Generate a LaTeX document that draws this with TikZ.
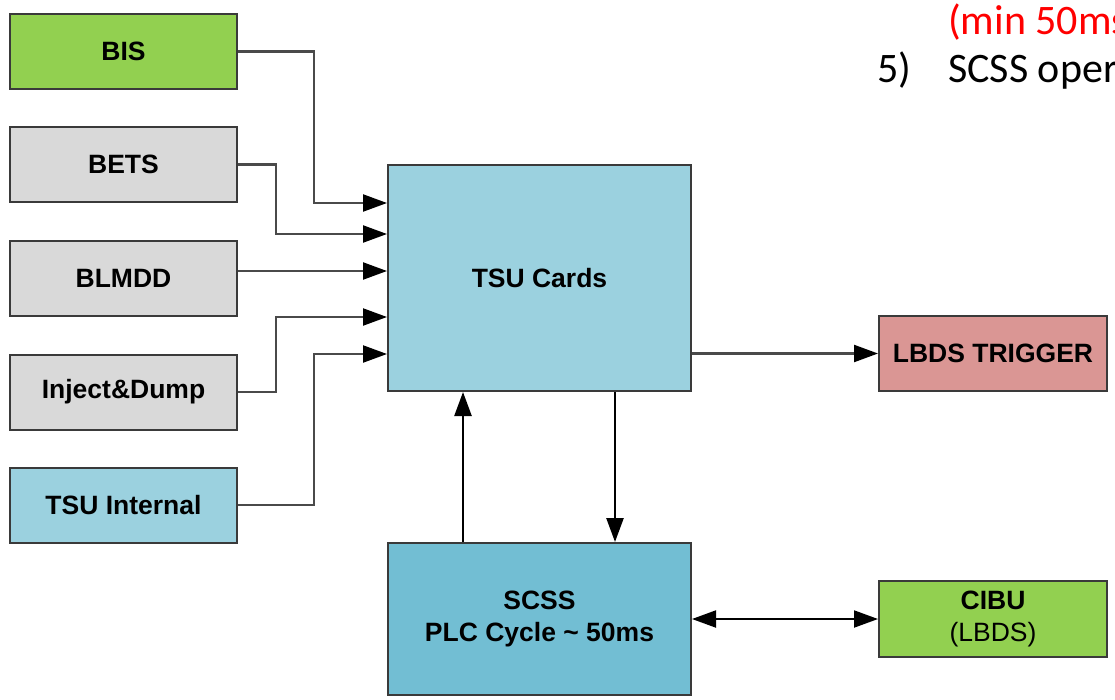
\documentclass[tikz,border=0pt]{standalone}
\usepackage{fontspec}
\setmainfont{Liberation Sans}
\newfontfamily\calib{Carlito}
\usetikzlibrary{arrows.meta}
\definecolor{cgreen}{HTML}{92D050}
\definecolor{cgrey}{HTML}{D9D9D9}
\definecolor{cblue}{HTML}{9BD1DF}
\definecolor{cdblue}{HTML}{72BED3}
\definecolor{cred}{HTML}{DA9694}
\definecolor{cborder}{HTML}{3A3A3A}
\definecolor{cline}{HTML}{4A4A4A}
\tikzset{
  box/.style={draw=cborder, line width=2pt, minimum width=227pt, minimum height=75pt, inner sep=0pt, align=center, font=\fontsize{26.5}{32}\selectfont\bfseries},
  tip/.tip={Triangle[length=24pt,width=17pt,color=black]},
  conn/.style={draw=cline, line width=2.2pt, -tip},
  vconn/.style={draw=black, line width=2.5pt, -tip},
  slide/.style={anchor=base west, inner sep=0pt, font=\calib\fontsize{42}{50}\selectfont}
}
\begin{document}
\begin{tikzpicture}[x=1pt,y=-1pt]
\useasboundingbox (0,0) rectangle (1115,699);
\clip (0,0) rectangle (1115,699);
\node[slide, text=red] (t1) at (948,34) {(min 50ms};
\node[slide] (t2) at (877,82) {5)};
\node[slide] (t3) at (948,82) {SCSS oper};

\node[box, fill=cgreen] (bis) at (123.5,51.5) {BIS};
\node[box, fill=cgrey] (bets) at (123.5,164.5) {BETS};
\node[box, fill=cgrey] (blmdd) at (123.5,278.5) {BLMDD};
\node[box, fill=cgrey] (inj) at (123.5,392) {Inject\&Dump};
\node[box, fill=cblue] (tsui) at (123.5,505) {TSU Internal};
\node[box, fill=cblue, minimum width=303pt, minimum height=226pt] (tsu) at (539.5,278) {TSU Cards};
\node[box, fill=cred, minimum width=228pt] (lbds) at (993,353.5) {LBDS TRIGGER};
\node[box, fill=cdblue, minimum width=303pt, minimum height=152pt] (scss) at (539.5,619) {SCSS\\PLC Cycle \textasciitilde{} 50ms};
\node[box, fill=cgreen, minimum width=228pt, minimum height=76pt] (cibu) at (993,619) {CIBU\\{\mdseries (LBDS)}};

\coordinate (a1) at ([yshift=75pt]tsu.west);
\coordinate (a2) at ([yshift=44pt]tsu.west);
\coordinate (a3) at ([yshift=7pt]tsu.west);
\coordinate (a4) at ([yshift=-39pt]tsu.west);
\coordinate (a5) at ([yshift=-76pt]tsu.west);

\draw[conn] (bis.east) -- ++(76,0) |- (a1);
\draw[conn] (bets.east) -- ++(38,0) |- (a2);
\draw[conn] (blmdd.east |- a3) -- (a3);
\draw[conn] (inj.east) -- ++(38,0) |- (a4);
\draw[conn] (tsui.east) -- ++(76,0) |- (a5);
\draw[conn] (tsu.east |- lbds.west) -- (lbds.west);
\draw[vconn] ([xshift=-76.5pt]scss.north) -- ([xshift=-76.5pt]tsu.south);
\draw[vconn] ([xshift=75.5pt]tsu.south) -- ([xshift=75.5pt]scss.north);
\draw[draw=black, line width=2pt, tip-tip] (scss.east) -- (cibu.west);
\end{tikzpicture}
\end{document}
